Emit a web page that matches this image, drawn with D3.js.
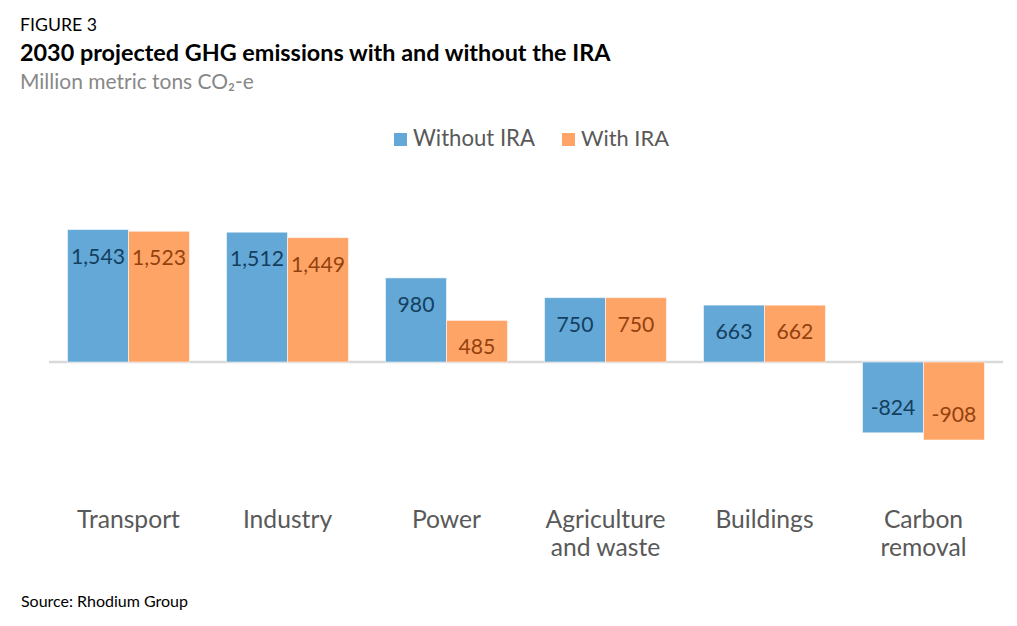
<!DOCTYPE html>
<html>
<head>
<meta charset="utf-8">
<script src="https://cdn.jsdelivr.net/npm/d3@7"></script>
<style>
  html, body { margin: 0; padding: 0; background: #ffffff; }
  svg { display: block; }
  text { font-family: "Lato", "Open Sans", sans-serif; }
</style>
</head>
<body>
<svg id="chart" width="1017" height="626"></svg>
<script>
const categories = ["Transport", "Industry", "Power", "Agriculture\nand waste", "Buildings", "Carbon\nremoval"];
const seriesNames = ["Without IRA", "With IRA"];
const withoutIRA = [1543, 1512, 980, 750, 663, -824];
const withIRA = [1523, 1449, 485, 750, 662, -908];
const figureLabel = "FIGURE 3";
const titleText = "2030 projected GHG emissions with and without the IRA";
const subtitleText = "Million metric tons CO\u2082-e";
const sourceText = "Source: Rhodium Group";

const colors = { "Without IRA": "#63a8d6", "With IRA": "#ffa467" };
const labelColors = { "Without IRA": "#143f60", "With IRA": "#94420d" };

const svg = d3.select("#chart");
const fmt = v => d3.format(",")(v).replace("\u2212", "-");

function fitWidth(sel, target) {
  const n = sel.node();
  const w = n.getComputedTextLength();
  const fs = parseFloat(sel.attr("font-size"));
  const nfs = fs * target / w;
  sel.attr("font-size", nfs);
  return nfs;
}

// Header
const fig = svg.append("text").attr("x", 20).attr("y", 31).attr("font-size", 17)
  .attr("fill", "#000").text(figureLabel);
fitWidth(fig, 77);
const title = svg.append("text").attr("x", 20).attr("y", 61).attr("font-size", 22)
  .attr("font-weight", 700).attr("fill", "#000").text(titleText);
fitWidth(title, 591);
const sub = svg.append("text").attr("x", 20).attr("y", 89).attr("font-size", 19)
  .attr("fill", "#888888").text(subtitleText);
fitWidth(sub, 234);

// Scales
const x0 = d3.scaleBand().domain(categories).range([49, 1003])
  .paddingInner(0.233).paddingOuter(0.1165);
const x1 = d3.scaleBand().domain(seriesNames).range([0, x0.bandwidth()]);
const y = d3.scaleLinear().domain([-1000, 2000]).range([447.9, 190.3]);

const data = categories.map((c, i) => ({
  cat: c,
  vals: [
    { s: "Without IRA", v: withoutIRA[i] },
    { s: "With IRA", v: withIRA[i] }
  ]
}));

// Baseline
svg.append("line")
  .attr("x1", x0.range()[0]).attr("x2", x0.range()[1])
  .attr("y1", y(0)).attr("y2", y(0))
  .attr("stroke", "#d9d9d9").attr("stroke-width", 2.5);

const groups = svg.append("g").selectAll("g").data(data).join("g")
  .attr("transform", d => `translate(${x0(d.cat)},0)`);

groups.selectAll("rect").data(d => d.vals).join("rect")
  .attr("x", d => x1(d.s))
  .attr("width", x1.bandwidth())
  .attr("y", d => Math.min(y(d.v), y(0)))
  .attr("height", d => Math.abs(y(d.v) - y(0)))
  .attr("fill", d => colors[d.s])
  .attr("stroke", "#ffffff").attr("stroke-opacity", 0.55).attr("stroke-width", 1);

// Value labels
const probe = svg.append("text").attr("font-size", 22).text(fmt(withoutIRA[0]));
const valFs = fitWidth(probe, 54);
probe.remove();

groups.selectAll("text.val").data(d => d.vals).join("text")
  .attr("class", "val")
  .attr("x", d => x1(d.s) + x1.bandwidth() / 2)
  .attr("y", d => d.v >= 0 ? y(d.v) + 34 : y(d.v) - 18)
  .attr("text-anchor", "middle")
  .attr("font-size", valFs)
  .attr("fill", d => labelColors[d.s])
  .text(d => fmt(d.v));

// Category labels
const probe2 = svg.append("text").attr("font-size", 23).text(categories[0]);
const catFs = fitWidth(probe2, 103);
probe2.remove();

const catG = svg.append("g");
categories.forEach(c => {
  const lines = c.split("\n");
  const t = catG.append("text")
    .attr("text-anchor", "middle")
    .attr("font-size", catFs)
    .attr("fill", "#595959");
  lines.forEach((ln, i) => {
    t.append("tspan").attr("x", x0(c) + x0.bandwidth() / 2)
      .attr("y", 528 + i * 28).text(ln);
  });
});

// Legend
const legX = [394, 562];
const leg = svg.append("g");
seriesNames.forEach((s, i) => {
  leg.append("rect").attr("x", legX[i]).attr("y", 133).attr("width", 13).attr("height", 13)
    .attr("fill", colors[s]);
  const lt = leg.append("text").attr("x", legX[i] + 19).attr("y", 146)
    .attr("font-size", 22).attr("fill", "#595959").text(s);
  fitWidth(lt, i === 0 ? 122 : 88);
});

// Source
const src = svg.append("text").attr("x", 21).attr("y", 607).attr("font-size", 16)
  .attr("fill", "#000").text(sourceText);
fitWidth(src, 167);
</script>
</body>
</html>
